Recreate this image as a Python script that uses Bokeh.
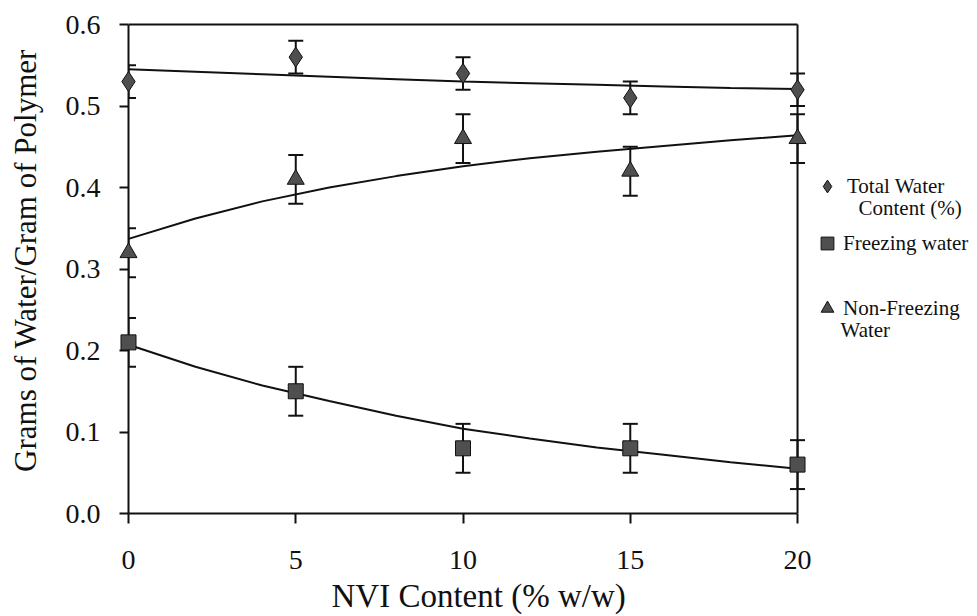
from bokeh.plotting import figure
from bokeh.models import (Range1d, Whisker, TeeHead, ColumnDataSource, Legend, LegendItem,
                          FixedTicker, Label, PrintfTickFormatter, Title)
from bokeh.embed import file_html
from bokeh.resources import INLINE

# ---------------- data ----------------
nvi = [0, 5, 10, 15, 20]

total_water = [0.53, 0.56, 0.54, 0.51, 0.52]
total_err = [0.02, 0.02, 0.02, 0.02, 0.02]

freezing_water = [0.21, 0.15, 0.08, 0.08, 0.06]
freezing_err = [0.03, 0.03, 0.03, 0.03, 0.03]

nonfreezing_water = [0.32, 0.41, 0.46, 0.42, 0.46]
nonfreezing_err = [0.03, 0.03, 0.03, 0.03, 0.03]

# trend-line values
fit_x = [0, 2, 4, 6, 8, 10, 12, 14, 16, 18, 20]
total_fit = [0.545, 0.542, 0.539, 0.536, 0.533, 0.530, 0.528, 0.526, 0.524, 0.522, 0.521]
freezing_fit = [0.207, 0.180, 0.157, 0.138, 0.120, 0.104, 0.092, 0.081, 0.072, 0.063, 0.055]
nonfreezing_fit = [0.337, 0.362, 0.383, 0.400, 0.414, 0.426, 0.436, 0.444, 0.451, 0.458, 0.464]

x_ticks = [0, 5, 10, 15, 20]
y_ticks = [0.0, 0.1, 0.2, 0.3, 0.4, 0.5, 0.6]

x_title = "NVI Content (% w/w)"
y_title = "Grams of Water/Gram of Polymer"
legend_labels = ["Total Water", "Freezing water", "Non-Freezing"]
legend_second_lines = ["Content (%)", "Water"]

FONT = "Liberation Serif"
INK = "#111111"
FILL = "#4f4f4f"

# ---------------- figure ----------------
p = figure(frame_width=849, frame_height=506,
           x_range=Range1d(0, 25.38), y_range=Range1d(0, 0.6209),
           min_border_left=128, min_border_right=0, min_border_top=7, min_border_bottom=103,
           output_backend="svg", toolbar_location=None, tools="")
p.outline_line_color = None
p.xgrid.visible = False
p.ygrid.visible = False
p.background_fill_color = "white"
p.border_fill_color = "white"

# axes
xa = p.xaxis[0]
xa.ticker = FixedTicker(ticks=x_ticks)
xa.bounds = (x_ticks[0], x_ticks[-1])
xa.major_tick_out = 10
xa.major_tick_in = 0
xa.minor_tick_line_color = None
xa.axis_line_width = 2
xa.major_tick_line_width = 2
xa.axis_line_color = INK
xa.major_tick_line_color = INK
xa.major_label_text_font = FONT
xa.major_label_text_font_size = "28px"
xa.major_label_text_color = INK
xa.major_label_standoff = 27

ya = p.yaxis[0]
ya.ticker = FixedTicker(ticks=y_ticks)
ya.bounds = (y_ticks[0], y_ticks[-1])
ya.formatter = PrintfTickFormatter(format="%.1f")
ya.major_tick_out = 9
ya.major_tick_in = 0
ya.minor_tick_line_color = None
ya.axis_line_width = 2
ya.major_tick_line_width = 2
ya.axis_line_color = INK
ya.major_tick_line_color = INK
ya.major_label_text_font = FONT
ya.major_label_text_font_size = "28px"
ya.major_label_text_color = INK
ya.major_label_standoff = 19
ya.axis_label = y_title
ya.axis_label_text_font = FONT
ya.axis_label_text_font_size = "31px"
ya.axis_label_text_font_style = "normal"
ya.axis_label_text_color = INK
ya.axis_label_standoff = 20

# x-axis title (offset to the left like the reference)
p.add_layout(Title(text=x_title, align="left", offset=203, standoff=8,
                   text_font=FONT, text_font_size="33px", text_font_style="normal",
                   text_color=INK), "below")

# box lines (top and right)
p.line([x_ticks[0], x_ticks[-1]], [y_ticks[-1], y_ticks[-1]], line_color=INK, line_width=2)
p.line([x_ticks[-1], x_ticks[-1]], [y_ticks[0], y_ticks[-1]], line_color=INK, line_width=2)

# trend lines
for fy in (total_fit, freezing_fit, nonfreezing_fit):
    p.line(fit_x, fy, line_color=INK, line_width=2)


def series(ys, errs, marker, size):
    src = ColumnDataSource(dict(x=nvi, y=ys,
                                lo=[a - b for a, b in zip(ys, errs)],
                                hi=[a + b for a, b in zip(ys, errs)]))
    w = Whisker(source=src, base="x", upper="hi", lower="lo",
                line_color=INK, line_width=2,
                upper_head=TeeHead(size=15, line_color=INK, line_width=2),
                lower_head=TeeHead(size=15, line_color=INK, line_width=2))
    p.add_layout(w)
    r = p.scatter("x", "y", source=src, marker=marker, size=size,
                  fill_color=FILL, line_color=INK, line_width=1)
    r.level = "overlay"
    return r


r_total = series(total_water, total_err, "diamond", 20)
r_freeze = series(freezing_water, freezing_err, "square", 15)
r_non = series(nonfreezing_water, nonfreezing_err, "triangle", 17)


def add_legend(label, renderer, loc, standoff):
    lg = Legend(items=[LegendItem(label=label, renderers=[renderer])], location=loc,
                padding=0, margin=0, spacing=0, glyph_width=32, glyph_height=32,
                label_height=32, label_standoff=standoff,
                label_text_font=FONT, label_text_font_size="21px", label_text_color=INK,
                border_line_color=None, background_fill_alpha=0)
    p.add_layout(lg)


add_legend(legend_labels[0], r_total, (683, 311), 4)
add_legend(legend_labels[1], r_freeze, (683, 254), 0)
add_legend(legend_labels[2], r_non, (683, 189), 0)

p.add_layout(Label(x=730, y=306, x_units="screen", y_units="screen", text=legend_second_lines[0],
                   text_font=FONT, text_font_size="21px", text_color=INK, text_baseline="middle"))
p.add_layout(Label(x=712, y=184, x_units="screen", y_units="screen", text=legend_second_lines[1],
                   text_font=FONT, text_font_size="21px", text_color=INK, text_baseline="middle"))

open("out.html", "w").write(file_html(p, INLINE))
